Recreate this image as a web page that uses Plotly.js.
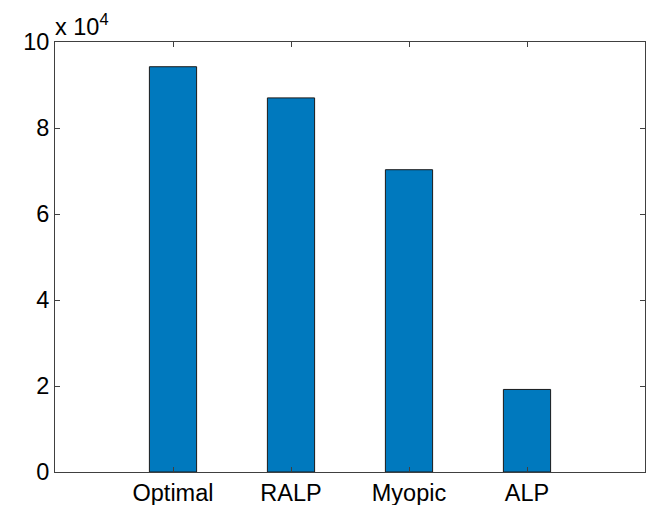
<!DOCTYPE html>
<html>
<head>
<meta charset="utf-8">
<script src="https://cdn.plot.ly/plotly-3.0.1.min.js"></script>
<style>body{margin:0;padding:0;background:#fff;} #chart{width:654px;height:505px;}</style>
</head>
<body>
<div id="chart"></div>
<script>
const categories = ["Optimal", "RALP", "Myopic", "ALP"];
const positions = [1, 2, 3, 4];
const values = [94250, 87000, 70300, 19200];
const yTickVals = [0, 20000, 40000, 60000, 80000, 100000];
const yTickText = ["0", "2", "4", "6", "8", "10"];
const exponentLabel = "x 10<sup>4</sup>";

const trace = {
  type: "bar",
  x: positions,
  y: values,
  width: 0.4,
  marker: {color: "#0079BE", line: {color: "#1a1a1a", width: 1}},
  hoverinfo: "none"
};

const axisFont = {family: "Liberation Sans, Arial, sans-serif", size: 23.5, color: "#000"};

const layout = {
  width: 654, height: 505,
  margin: {l: 55, r: 9, t: 42, b: 33},
  paper_bgcolor: "#fff", plot_bgcolor: "#fff",
  showlegend: false,
  xaxis: {
    range: [0, 5], tickvals: positions, ticktext: categories,
    ticks: "inside", ticklen: 5, tickcolor: "#404040", tickwidth: 1,
    showline: true, linecolor: "#404040", linewidth: 1, mirror: "ticks",
    showgrid: false, zeroline: false, tickfont: axisFont, fixedrange: true,
    automargin: false
  },
  yaxis: {
    range: [0, 100000], tickvals: yTickVals, ticktext: yTickText,
    ticks: "inside", ticklen: 5, tickcolor: "#404040", tickwidth: 1,
    showline: true, linecolor: "#404040", linewidth: 1, mirror: "ticks",
    showgrid: false, zeroline: false, tickfont: axisFont, fixedrange: true,
    automargin: false
  },
  annotations: [{
    text: exponentLabel, xref: "paper", yref: "paper", x: 0, y: 1,
    xanchor: "left", yanchor: "bottom", showarrow: false, yshift: 0, xshift: -2,
    font: {family: "Liberation Sans, Arial, sans-serif", size: 23.5, color: "#000"}
  }]
};

Plotly.newPlot("chart", [trace], layout, {displayModeBar: false, staticPlot: true});
</script>
</body>
</html>
